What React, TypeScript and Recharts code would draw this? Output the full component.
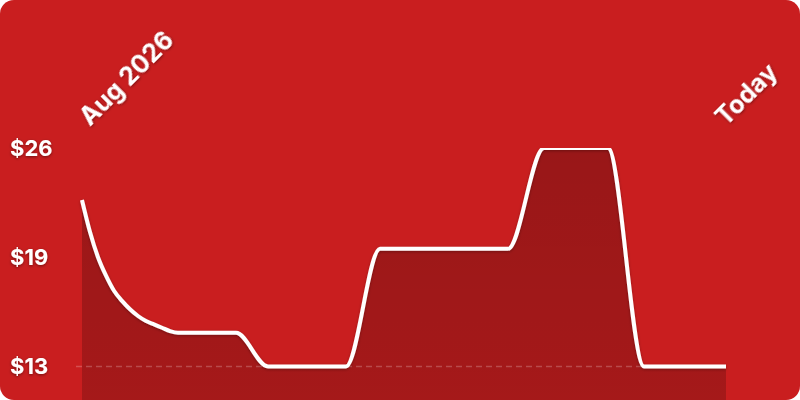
import React from "react";
import { ComposedChart, Area, Line, XAxis, YAxis, ReferenceLine } from "recharts";

// days since the first point (Aug 2026 … Today)
const days = [0, 4, 8, 12, 16, 20, 24, 28, 32, 36, 40, 44, 48, 77, 93, 132, 149, 213, 231, 263, 281, 322];
const prices = [22.9, 21.0, 19.5, 18.4, 17.5, 16.9, 16.4, 16.0, 15.7, 15.5, 15.3, 15.1, 15.0, 15.0, 13, 13, 20, 20, 26, 26, 13, 13];
const xTickValues = [0, 322];
const xTickLabels = ["Aug 2026", "Today"];
const yTickValues = [13, 19.5, 26];
const baselinePrice = 13;

const data = days.map((d, i) => ({ day: d, price: prices[i] }));

const FONT = "Inter, 'Liberation Sans', Arial, sans-serif";

const XTick = (props: any) => {
  const { x, y, payload, index } = props;
  const label = xTickLabels[xTickValues.indexOf(payload.value)] ?? "";
  const dx = index === 0 ? 8 : 0;
  const tx = x + dx;
  const ty = y - 13;
  return (
    <text
      x={tx}
      y={ty}
      transform={`rotate(-45, ${tx}, ${ty})`}
      textAnchor="start"
      fill="#ffffff"
      fontFamily={FONT}
      fontWeight={700}
      fontSize={25}
      filter="url(#txtShadow)"
    >
      {label}
    </text>
  );
};

const YTick = (props: any) => {
  const { y, payload } = props;
  return (
    <text
      x={10}
      y={y}
      dy="0.36em"
      textAnchor="start"
      fill="#ffffff"
      fontFamily={FONT}
      fontWeight={700}
      fontSize={22}
      filter="url(#txtShadow)"
    >
      {`$${Math.floor(payload.value)}`}
    </text>
  );
};

export default function App() {
  return (
    <div
      style={{
        position: "fixed",
        left: 0,
        top: 0,
        width: 800,
        height: 400,
        background: "#ffffff",
      }}
    >
      <div
        style={{
          width: 800,
          height: 400,
          background: "#C91E1F",
          borderRadius: 14,
          overflow: "hidden",
        }}
      >
        <ComposedChart
          width={800}
          height={400}
          data={data}
          margin={{ top: 0, right: 74, bottom: 0, left: 0 }}
        >
          <defs>
            <linearGradient id="areaFill" x1="0" y1="0" x2="0" y2="1">
              <stop offset="0%" stopColor="#000000" stopOpacity={0.24} />
              <stop offset="100%" stopColor="#000000" stopOpacity={0.18} />
            </linearGradient>
            <filter id="txtShadow" x="-20%" y="-20%" width="140%" height="140%">
              <feDropShadow dx="0" dy="1" stdDeviation="1.5" floodColor="#000000" floodOpacity={0.45} />
            </filter>
            <filter id="lineShadow" x="-5%" y="-10%" width="110%" height="120%">
              <feDropShadow dx="0" dy="1" stdDeviation="1.5" floodColor="#000000" floodOpacity={0.3} />
            </filter>
          </defs>
          <XAxis
            dataKey="day"
            type="number"
            domain={[0, 322]}
            ticks={xTickValues}
            orientation="top"
            height={148}
            axisLine={false}
            tickLine={false}
            interval={0}
            padding={{ left: 6, right: 0 }}
            tick={<XTick />}
          />
          <YAxis
            type="number"
            domain={[11, 26]}
            ticks={yTickValues}
            width={76}
            axisLine={false}
            tickLine={false}
            interval={0}
            allowDataOverflow
            tick={<YTick />}
          />
          <Area
            type="monotone"
            dataKey="price"
            stroke="none"
            fill="url(#areaFill)"
            fillOpacity={1}
            isAnimationActive={false}
            dot={false}
            activeDot={false}
          />
          <ReferenceLine
            y={baselinePrice}
            stroke="#ffffff"
            strokeOpacity={0.22}
            strokeWidth={1.5}
            strokeDasharray="6 4"
          />
          <Line
            type="monotone"
            dataKey="price"
            stroke="#ffffff"
            strokeWidth={4}
            dot={false}
            activeDot={false}
            isAnimationActive={false}
            filter="url(#lineShadow)"
          />
        </ComposedChart>
      </div>
    </div>
  );
}
